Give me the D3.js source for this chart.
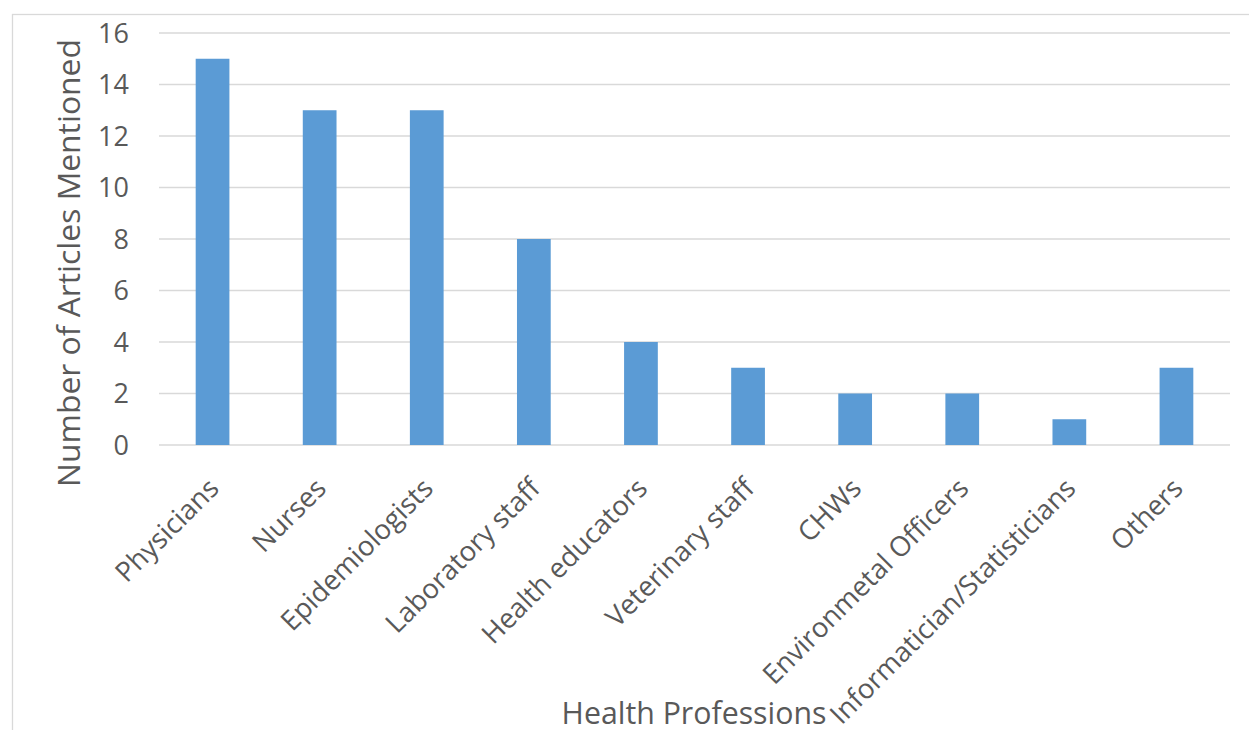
<!DOCTYPE html>
<html>
<head>
<meta charset="utf-8">
<script src="https://cdn.jsdelivr.net/npm/d3@7"></script>
<style>
  body { margin: 0; background: #fff; overflow: hidden; }
  text { font-family: "Open Sans", sans-serif; fill: #595959; }
</style>
</head>
<body>
<script>
//chart values
var categories = ["Physicians", "Nurses", "Epidemiologists", "Laboratory staff", "Health educators",
  "Veterinary staff", "CHWs", "Environmetal Officers", "Informatician/Statisticians", "Others"];
var counts = [15, 13, 13, 8, 4, 3, 2, 2, 1, 3];
var yTicks = [0, 2, 4, 6, 8, 10, 12, 14, 16];
var xTitle = "Health Professions";
var yTitle = "Number of Articles Mentioned";

var width = 1249, height = 730;

var svg = d3.select("body").append("svg")
  .attr("width", width)
  .attr("height", height);

//outer chart border
svg.append("rect")
  .attr("x", 12.5).attr("y", 14.5)
  .attr("width", 1300).attr("height", 800)
  .attr("fill", "none")
  .attr("stroke", "#d9d9d9")
  .attr("stroke-width", 1.3);

var x = d3.scaleBand()
  .domain(categories)
  .range([159, 1230])
  .paddingInner(0.685)
  .paddingOuter(0.3425);

var y = d3.scaleLinear()
  .domain([0, 16])
  .range([445, 33]);

//gridlines
svg.selectAll(".grid")
  .data(yTicks)
  .enter()
  .append("line")
  .attr("class", "grid")
  .attr("x1", 159).attr("x2", 1230)
  .attr("y1", function(d){ return y(d); })
  .attr("y2", function(d){ return y(d); })
  .attr("stroke", "#d9d9d9")
  .attr("stroke-width", 1.5);

//y axis labels
var yAxis = svg.append("g")
  .attr("transform", "translate(135,0)")
  .call(d3.axisLeft(y).tickValues(yTicks).tickSize(0).tickPadding(6));
yAxis.select(".domain").remove();
yAxis.selectAll("text")
  .attr("font-size", 27)
  .attr("font-family", "Open Sans, sans-serif")
  .attr("fill", "#595959")
  .attr("dy", "0.35em");

//bars
svg.selectAll(".bar")
  .data(counts)
  .enter()
  .append("rect")
  .attr("class", "bar")
  .attr("x", function(d, i){ return x(categories[i]); })
  .attr("width", x.bandwidth())
  .attr("y", function(d){ return y(d); })
  .attr("height", function(d){ return y(0) - y(d); })
  .attr("fill", "#5b9bd5");

//category labels, rotated
svg.selectAll(".cat")
  .data(categories)
  .enter()
  .append("text")
  .attr("class", "cat")
  .attr("font-size", 27.5)
  .attr("text-anchor", "end")
  .attr("transform", function(d){
    var cx = x(d) + x.bandwidth() / 2 + 8;
    return "translate(" + cx + ",490) rotate(-45)";
  })
  .text(function(d){ return d; });

//axis titles
svg.append("text")
  .attr("x", 694).attr("y", 724)
  .attr("text-anchor", "middle")
  .attr("font-size", 30.3)
  .text(xTitle);

svg.append("text")
  .attr("transform", "translate(80,263) rotate(-90)")
  .attr("text-anchor", "middle")
  .attr("font-size", 31.8)
  .text(yTitle);
</script>
</body>
</html>
